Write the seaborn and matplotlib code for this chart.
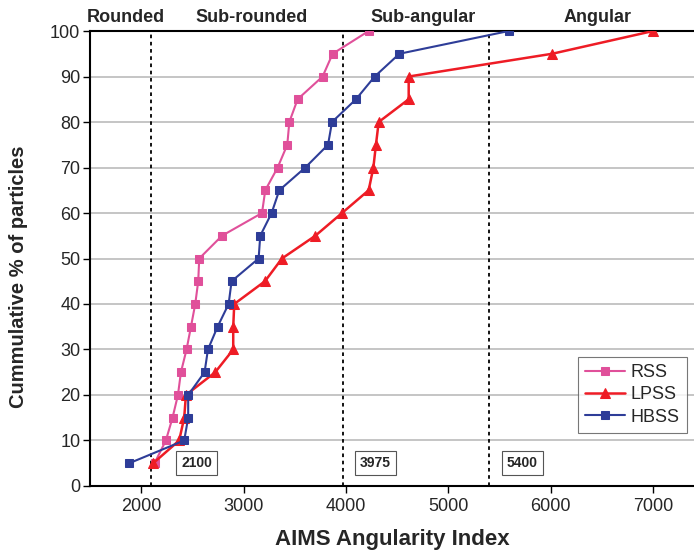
import numpy as np
import pandas as pd
import matplotlib
matplotlib.use("Agg")
import matplotlib.pyplot as plt
import seaborn as sns

pct = [5, 10, 15, 20, 25, 30, 35, 40, 45, 50, 55, 60, 65, 70, 75, 80, 85, 90, 95, 100]
rss = [2130, 2241, 2306, 2359, 2388, 2443, 2486, 2528, 2557, 2567, 2789, 3180, 3212, 3333,
       3427, 3447, 3528, 3772, 3870, 4222]
lpss = [2117, 2371, 2420, 2437, 2723, 2899, 2899, 2909, 3209, 3375, 3701, 3962, 4222, 4268,
        4293, 4320, 4613, 4613, 6014, 7000]
hbss = [1883, 2420, 2459, 2459, 2619, 2652, 2746, 2854, 2883, 3147, 3163, 3274, 3349, 3603,
        3825, 3864, 4098, 4281, 4522, 5590]
limits = [2100, 3975, 5400]
limit_labels = ["2100", "3975", "5400"]
label_x = [2540, 4287, 5724]
regions = ["Rounded", "Sub-rounded", "Sub-angular", "Angular"]
region_x = [1850, 3075, 4757, 6458]

sns.set_theme(style="white")
plt.rcParams['font.family'] = ['Liberation Sans', 'DejaVu Sans']

fig = plt.figure(figsize=(6.94, 5.51), dpi=100)
ax = fig.add_axes([0.1297, 0.118, 0.8703, 0.8257])

series = [("RSS", rss, "#E0509A", "s", 1.5, 5.5),
          ("LPSS", lpss, "#EE1C25", "^", 1.8, 7),
          ("HBSS", hbss, "#2E3D98", "s", 1.5, 5.5)]
for name, vals, col, mk, lw, ms in series:
    df = pd.DataFrame({"x": vals, "y": pct})
    sns.lineplot(data=df, x="x", y="y", sort=False, estimator=None, ax=ax,
                 color=col, marker=mk, markersize=ms, linewidth=lw,
                 markeredgecolor=col, label=name, zorder=3)

for v in limits:
    ax.axvline(v, color="black", linestyle=(0, (2, 2)), linewidth=1.3, zorder=2)

for lx, t in zip(label_x, limit_labels):
    ax.text(lx, 5, t, ha="center", va="center", fontsize=10, fontweight="bold",
            bbox=dict(boxstyle="square,pad=0.35", fc="white", ec="#555555", lw=0.8), zorder=4)

for rx, t in zip(region_x, regions):
    ax.text(rx, 102.9, t, ha="center", va="center", fontsize=13, fontweight="bold",
            clip_on=False)

ax.set_xlim(1500, 7400)
ax.set_ylim(0, 100)
ax.set_xticks([2000, 3000, 4000, 5000, 6000, 7000])
ax.set_yticks(range(0, 101, 10))
ax.yaxis.grid(True, color="#BBBBBB", linewidth=1.2)
ax.tick_params(axis="both", labelsize=13, direction="out", length=5, width=1, color="black",
               bottom=True, left=True)
ax.tick_params(axis="y", pad=2)
for s in ["left", "bottom", "top"]:
    ax.spines[s].set_color("black")
    ax.spines[s].set_linewidth(1.5)
ax.spines["right"].set_visible(False)

ax.set_xlabel("AIMS Angularity Index", fontsize=16, fontweight="bold")
ax.xaxis.set_label_coords(0.5, -0.094)
ax.set_ylabel("Cummulative % of particles", fontsize=14.5, fontweight="bold")
ax.yaxis.set_label_coords(-0.103, 0.46)

leg = ax.legend(loc="lower right", bbox_to_anchor=(0.988, 0.1165), fontsize=13, frameon=True,
                fancybox=False, edgecolor="#555555", handlelength=2.2, borderpad=0.4,
                labelspacing=0.3, handletextpad=0.3, borderaxespad=0)
leg.get_frame().set_linewidth(0.8)

fig.savefig("out.png", dpi=100)
